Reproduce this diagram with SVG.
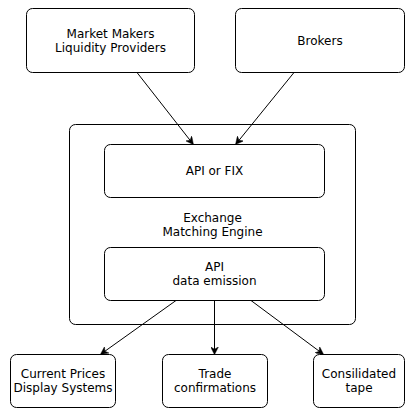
<svg xmlns="http://www.w3.org/2000/svg" width="417" height="418" viewBox="0 0 417 418">
<style>
.box{fill:#fff;stroke:#000;stroke-width:1}
.t{font-family:"DejaVu Sans",sans-serif;font-size:12px;fill:#000;text-anchor:middle}
.c{fill:none;stroke:#000;stroke-width:1}
</style>
<defs>
<marker id="a" viewBox="0 0 10 10" refX="9" refY="5" markerWidth="8" markerHeight="8" markerUnits="userSpaceOnUse" orient="auto">
<path d="M0,0 L10,5 L0,10 L3,5 Z" fill="#000" stroke="#000" stroke-width="0.5"/>
</marker>
</defs>
<rect width="417" height="418" fill="#fff"/>
<g id="exchange">
<rect class="box" x="69.5" y="124.5" width="286" height="200" rx="6"/>
<text class="t" x="212.5" y="221.5">Exchange</text>
<text class="t" x="212.5" y="236">Matching Engine</text>
</g>
<g id="market-makers">
<rect class="box" x="26.5" y="8.5" width="168" height="64" rx="6"/>
<text class="t" x="110.5" y="37.5">Market Makers</text>
<text class="t" x="110.5" y="52">Liquidity Providers</text>
</g>
<g id="brokers">
<rect class="box" x="235.5" y="8.5" width="169" height="64" rx="6"/>
<text class="t" x="320" y="45">Brokers</text>
</g>
<g id="api-fix">
<rect class="box" x="104.5" y="144.5" width="220" height="53" rx="6"/>
<text class="t" x="214.5" y="175">API or FIX</text>
</g>
<g id="api-emission">
<rect class="box" x="104.5" y="247.5" width="220" height="53" rx="6"/>
<text class="t" x="214.5" y="271">API</text>
<text class="t" x="214.5" y="285">data emission</text>
</g>
<g id="current-prices">
<rect class="box" x="10.5" y="354.5" width="105" height="53" rx="6"/>
<text class="t" x="63" y="377.5">Current Prices</text>
<text class="t" x="63" y="391.5">Display Systems</text>
</g>
<g id="trade-confirmations">
<rect class="box" x="162.5" y="354.5" width="105" height="53" rx="6"/>
<text class="t" x="215" y="377.5">Trade</text>
<text class="t" x="215" y="391.5">confirmations</text>
</g>
<g id="consolidated-tape">
<rect class="box" x="313.5" y="354.5" width="91" height="53" rx="6"/>
<text class="t" x="359" y="377.5">Consilidated</text>
<text class="t" x="359" y="391.5">tape</text>
</g>
<g id="connectors">
<line class="c" x1="137" y1="72.5" x2="193" y2="144" marker-end="url(#a)"/>
<line class="c" x1="294" y1="72.5" x2="236" y2="144" marker-end="url(#a)"/>
<line class="c" x1="176" y1="300.5" x2="101" y2="354" marker-end="url(#a)"/>
<line class="c" x1="214.5" y1="300.5" x2="214.5" y2="354" marker-end="url(#a)"/>
<line class="c" x1="251" y1="300.5" x2="323" y2="354" marker-end="url(#a)"/>
</g>
</svg>
